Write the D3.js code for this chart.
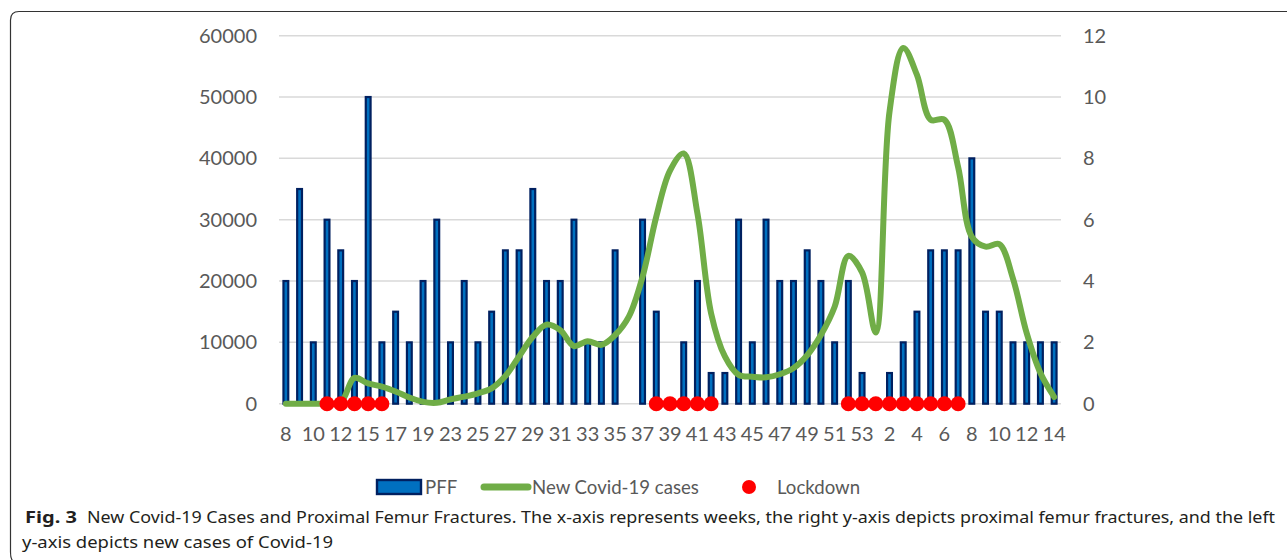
<!DOCTYPE html>
<html>
<head>
<meta charset="utf-8">
<script src="https://cdn.jsdelivr.net/npm/d3@7"></script>
<style>
    html, body { margin: 0; padding: 0; background: #fff; }
    #chart { width: 1287px; height: 560px; }
    .axis text { font-family: Lato, "Open Sans", sans-serif; font-size: 20px; fill: #595959; }
    .axis path, .axis line { display: none; }
    .legend text { font-family: Lato, "Open Sans", sans-serif; font-size: 18.6px; fill: #595959; }
    .caption { font-family: "Noto Sans", "Open Sans", sans-serif; font-size: 16.5px; fill: #231f20; }
</style>
</head>
<body>
<div id="chart"></div>
<script>
'use strict';

// Week numbers (2020 week 8 through 2021 week 14).
var weeks = [8, 9, 10, 11, 12, 14, 15, 16, 17, 18, 19, 22, 23, 24, 25, 26, 27, 28, 29, 30,
    31, 32, 33, 34, 35, 36, 37, 38, 39, 40, 41, 42, 43, 44, 45, 46, 47, 48, 49, 50,
    51, 52, 53, 1, 2, 3, 4, 5, 6, 7, 8, 9, 10, 11, 12, 13, 14];

// Proximal femur fractures per week (right axis).
var pff = [4, 7, 2, 6, 5, 4, 10, 2, 3, 2, 4, 6, 2, 4, 2, 3, 5, 5, 7, 4,
    4, 6, 2, 2, 5, 0, 6, 3, 0, 2, 4, 1, 1, 6, 2, 6, 4, 4, 5, 4,
    2, 4, 1, 0, 1, 2, 3, 5, 5, 5, 8, 3, 3, 2, 2, 2, 2];

// New Covid-19 cases per week (left axis).
var cases = [0, 0, 0, 0, 200, 4200, 3300, 2800, 2000, 1000,
    300, 150, 700, 1150, 1700, 2500, 4500, 7700, 10900, 12900,
    12000, 9400, 10200, 9600, 11200, 14200, 20700, 30500, 38000, 40800,
    31000, 14700, 7700, 4700, 4400, 4300, 4800, 5800, 7900, 11200,
    15800, 24100, 21400, 11600, 47600, 58000, 53600, 46300, 46300, 38600,
    27200, 25600, 26000, 20400, 11500, 5000, 1100];

// 1 = lockdown in force that week.
var lockdown = [0, 0, 0, 1, 1, 1, 1, 1, 0, 0, 0, 0, 0, 0, 0, 0, 0, 0, 0, 0,
    0, 0, 0, 0, 0, 0, 0, 1, 1, 1, 1, 1, 0, 0, 0, 0, 0, 0, 0, 0,
    0, 1, 1, 1, 1, 1, 1, 1, 1, 1, 0, 0, 0, 0, 0, 0, 0];

var leftTicks = [0, 10000, 20000, 30000, 40000, 50000, 60000];
var rightTicks = [0, 2, 4, 6, 8, 10, 12];

var W = 1287, H = 560;
var plot = {left: 279, right: 1061, top: 35.7, bottom: 403.7};

var svg = d3.select('#chart').append('svg')
    .attr('width', W)
    .attr('height', H);

// Frame round the figure.
svg.append('path')
    .attr('d', 'M' + W + ',11.5 L19,11.5 Q10.5,11.5 10.5,20 L10.5,552 Q10.5,560 14,562')
    .attr('fill', 'none')
    .attr('stroke', '#333')
    .attr('stroke-width', 1.2);

var idx = d3.range(weeks.length);
var xScale = d3.scaleBand()
    .domain(idx)
    .range([plot.left, plot.right]);
var yLeft = d3.scaleLinear()
    .domain([0, 60000])
    .range([plot.bottom, plot.top]);
var yRight = d3.scaleLinear()
    .domain([0, 12])
    .range([plot.bottom, plot.top]);

// Gridlines.
svg.append('g').selectAll('line')
    .data(leftTicks)
    .enter()
    .append('line')
    .attr('x1', plot.left)
    .attr('x2', plot.right)
    .attr('y1', function(d) { return yLeft(d); })
    .attr('y2', function(d) { return yLeft(d); })
    .attr('stroke', '#d9d9d9')
    .attr('stroke-width', 1.5);

// Left axis.
svg.append('g')
    .attr('class', 'axis')
    .attr('transform', 'translate(' + (plot.left - 1) + ',0)')
    .call(d3.axisLeft(yLeft).tickValues(leftTicks).tickSize(0).tickPadding(21).tickFormat(d3.format('d')));

// Right axis.
svg.append('g')
    .attr('class', 'axis')
    .attr('transform', 'translate(' + plot.right + ',0)')
    .call(d3.axisRight(yRight).tickValues(rightTicks).tickSize(0).tickPadding(22));

// x-axis, every second week labelled.
svg.append('g')
    .attr('class', 'axis')
    .attr('transform', 'translate(0,' + plot.bottom + ')')
    .call(d3.axisBottom(xScale)
        .tickValues(idx.filter(function(i) { return i % 2 === 0; }))
        .tickSize(0)
        .tickPadding(23)
        .tickFormat(function(i) { return weeks[i]; }))
    .selectAll('text')
    .attr('dy', '0.71em');

// PFF columns.
var colWidth = 4.8;
svg.append('g').selectAll('rect')
    .data(idx.filter(function(i) { return pff[i] > 0; }))
    .enter()
    .append('rect')
    .attr('x', function(i) { return xScale(i) + xScale.bandwidth() / 2 - colWidth / 2; })
    .attr('y', function(i) { return yRight(pff[i]); })
    .attr('width', colWidth)
    .attr('height', function(i) { return yRight(0) - yRight(pff[i]); })
    .attr('fill', '#0070c0')
    .attr('stroke', '#002060')
    .attr('stroke-width', 2.2);

// Covid cases line.
var line = d3.line()
    .x(function(i) { return xScale(i) + xScale.bandwidth() / 2; })
    .y(function(i) { return yLeft(cases[i]); })
    .curve(d3.curveCatmullRom.alpha(0.5));
svg.append('path')
    .datum(idx)
    .attr('d', line)
    .attr('fill', 'none')
    .attr('stroke', '#70ad47')
    .attr('stroke-width', 6)
    .attr('stroke-linejoin', 'round')
    .attr('stroke-linecap', 'round');

// Lockdown markers on the baseline.
svg.append('g').selectAll('circle')
    .data(idx.filter(function(i) { return lockdown[i] === 1; }))
    .enter()
    .append('circle')
    .attr('cx', function(i) { return xScale(i) + xScale.bandwidth() / 2; })
    .attr('cy', yLeft(0))
    .attr('r', 7.5)
    .attr('fill', '#ff0000');

// Legend.
var legend = svg.append('g').attr('class', 'legend');
legend.append('rect')
    .attr('x', 377).attr('y', 480)
    .attr('width', 44).attr('height', 14)
    .attr('fill', '#0070c0')
    .attr('stroke', '#002060')
    .attr('stroke-width', 2.4);
legend.append('text').attr('x', 425).attr('y', 494).text('PFF');
legend.append('line')
    .attr('x1', 484).attr('x2', 528)
    .attr('y1', 487).attr('y2', 487)
    .attr('stroke', '#70ad47')
    .attr('stroke-width', 7)
    .attr('stroke-linecap', 'round');
legend.append('text').attr('x', 532).attr('y', 494).text('New Covid-19 cases');
legend.append('circle')
    .attr('cx', 749).attr('cy', 487).attr('r', 7)
    .attr('fill', '#ff0000');
legend.append('text').attr('x', 777).attr('y', 494).text('Lockdown');

// Caption.
svg.append('text')
    .attr('class', 'caption')
    .attr('x', 25).attr('y', 523)
    .attr('font-weight', 'bold')
    .attr('textLength', 52)
    .attr('lengthAdjust', 'spacingAndGlyphs')
    .text('Fig. 3');
svg.append('text')
    .attr('class', 'caption')
    .attr('x', 87).attr('y', 523)
    .attr('textLength', 1188)
    .attr('lengthAdjust', 'spacingAndGlyphs')
    .text('New Covid-19 Cases and Proximal Femur Fractures. The x-axis represents weeks, the right y-axis depicts proximal femur fractures, and the left');
svg.append('text')
    .attr('class', 'caption')
    .attr('x', 22).attr('y', 548)
    .attr('textLength', 311)
    .attr('lengthAdjust', 'spacingAndGlyphs')
    .text('y-axis depicts new cases of Covid-19');
</script>
</body>
</html>
